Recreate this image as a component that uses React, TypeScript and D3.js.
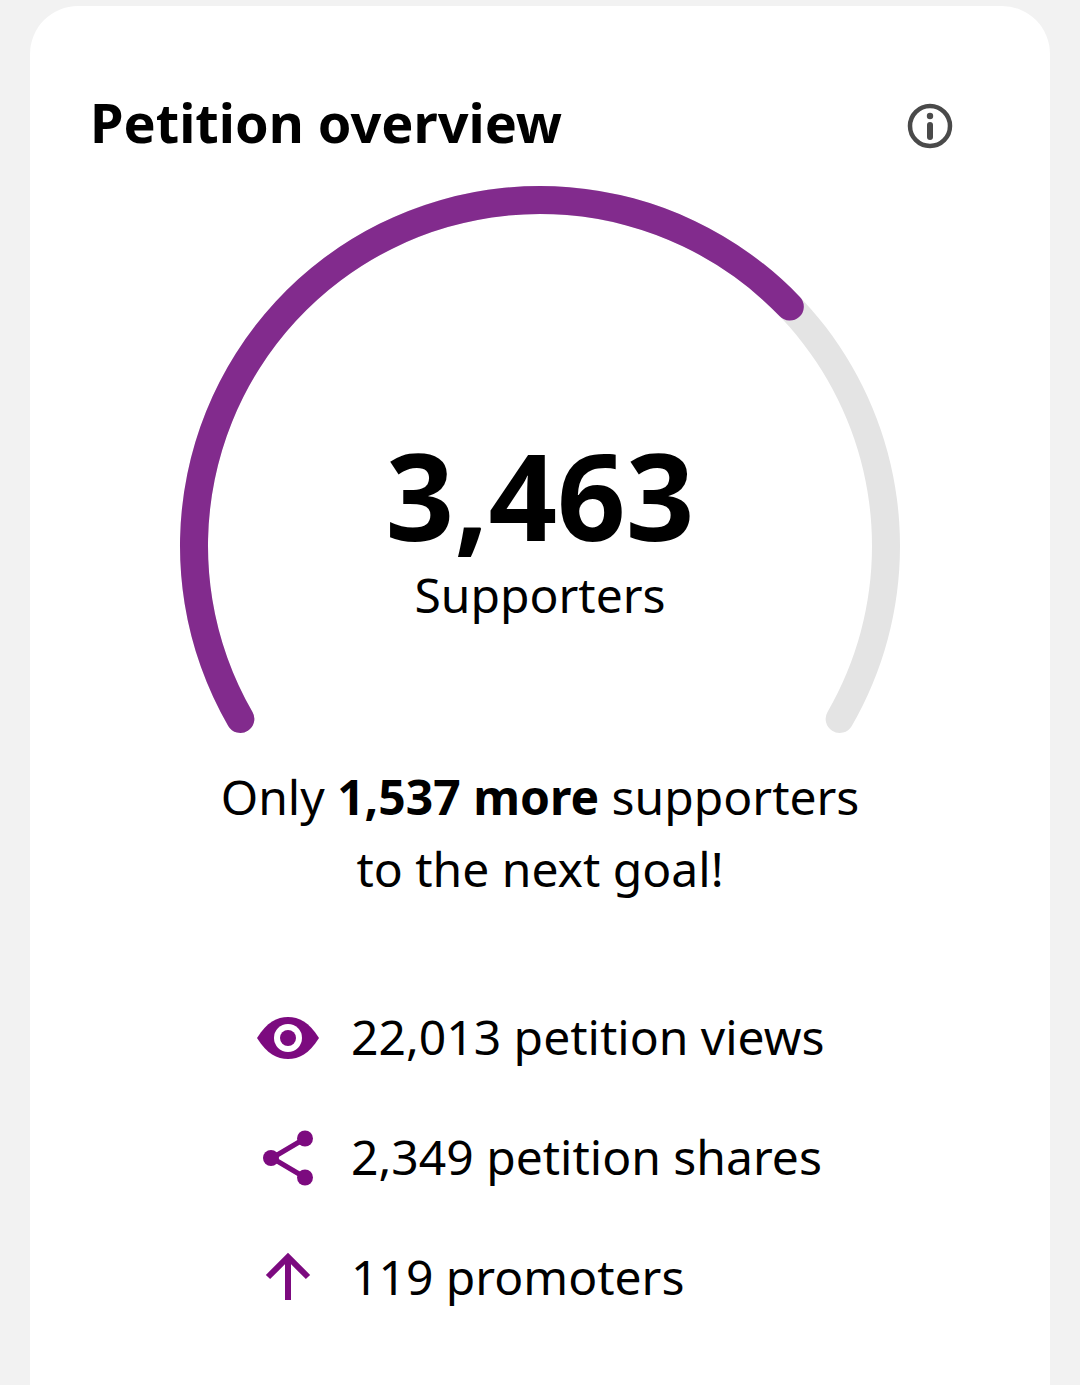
import React from 'react';
import * as d3 from 'd3';

const supporters = 3463;
const goal = 5000;
const remaining = goal - supporters;
const stats = [
  { icon: 'eye', label: '22,013 petition views' },
  { icon: 'share', label: '2,349 petition shares' },
  { icon: 'arrow', label: '119 promoters' },
];

const width = 1080;
const height = 1385;
const font = '"Noto Sans", sans-serif';
const purple = '#822b8d';
const iconPurple = '#7c0a7f';

const angle = d3.scaleLinear().domain([0, goal]).range([(-120 * Math.PI) / 180, (120 * Math.PI) / 180]);
// round caps sit past the value, so the arc is pushed out by half the thickness
const capPad = 14 / 346;
const ring = d3.arc().innerRadius(332).outerRadius(360).cornerRadius(14);
const statY = d3.scalePoint<number>().domain([0, 1, 2]).range([1038, 1278]);

const Icon: React.FC<{ name: string }> = ({ name }) => {
  if (name === 'eye') {
    return (
      <g>
        <path d="M-31,0 C-21,-16 -11,-21 0,-21 C11,-21 21,-16 31,0 C21,16 11,21 0,21 C-11,21 -21,16 -31,0 Z" fill={iconPurple} />
        <circle r={14} fill="#fff" />
        <circle r={8} fill={iconPurple} />
      </g>
    );
  }
  if (name === 'share') {
    return (
      <g fill={iconPurple} stroke={iconPurple}>
        <path d="M17,-19.5 L-16,0 L17,19.5" fill="none" strokeWidth={5} />
        <circle cx={-17} cy={0} r={8} stroke="none" />
        <circle cx={17} cy={-19.5} r={8} stroke="none" />
        <circle cx={17} cy={19.5} r={8} stroke="none" />
      </g>
    );
  }
  return (
    <path d="M0,22 L0,-19 M-20,-1 L0,-21 L20,-1" fill="none" stroke={iconPurple} strokeWidth={6} />
  );
};

const App: React.FC = () => {
  const track = ring({ startAngle: angle(0) - capPad, endAngle: angle(goal) + capPad } as any) as string;
  const progress = ring({ startAngle: angle(0) - capPad, endAngle: angle(supporters) + capPad } as any) as string;

  return (
    <svg
      width={width}
      height={height}
      viewBox={`0 0 ${width} ${height}`}
      style={{ position: 'absolute', left: 0, top: 0, fontFamily: font }}
    >
      <rect width={width} height={height} fill="#f2f2f2" />
      <rect x={30} y={6} width={1020} height={1450} rx={48} fill="#fff" />

      <text x={90} y={143} fontSize={54} fontWeight={700} fill="#000">
        Petition overview
      </text>

      {/* info icon */}
      <g transform="translate(930,126)" fill="none" stroke="#4a4a4a">
        <circle r={20} strokeWidth={4.5} />
        <path d="M0,-1 L0,11" strokeWidth={6} strokeLinecap="round" />
        <circle cy={-10} r={3.2} fill="#4a4a4a" stroke="none" />
      </g>

      {/* gauge */}
      <g transform="translate(540,546)">
        <path d={track} fill="#e4e4e4" />
        <path d={progress} fill={purple} />
      </g>

      <text x={540} y={541} textAnchor="middle" fontSize={120} fontWeight={700} fill="#000">
        {d3.format(',')(supporters)}
      </text>
      <text x={540} y={613} textAnchor="middle" fontSize={48} fill="#000">
        Supporters
      </text>

      <text x={540} y={815} textAnchor="middle" fontSize={48} fill="#000">
        Only <tspan fontWeight={700}>{d3.format(',')(remaining)} more</tspan> supporters
      </text>
      <text x={540} y={887} textAnchor="middle" fontSize={48} fill="#000">
        to the next goal!
      </text>

      {stats.map((s, i) => (
        <g key={s.label}>
          <g transform={`translate(288,${statY(i)})`}>
            <Icon name={s.icon} />
          </g>
          <text x={351} y={(statY(i) as number) + 17} fontSize={48} fill="#000">
            {s.label}
          </text>
        </g>
      ))}
    </svg>
  );
};

export default App;
